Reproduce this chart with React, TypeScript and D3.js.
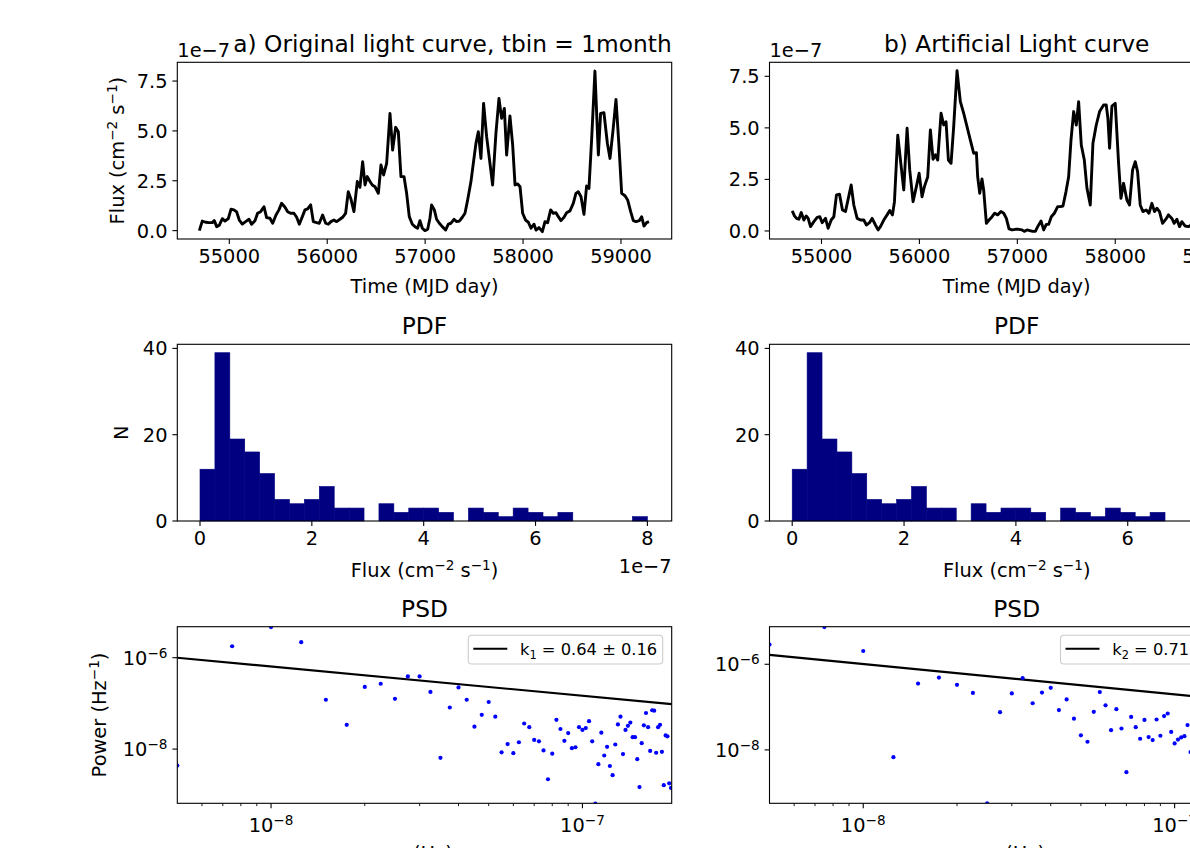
import React, { useEffect } from 'react';
import * as d3 from 'd3';

const FONT = "'DejaVu Sans', sans-serif";
const TICK_FS = 19.4;
const TITLE_FS = 23.3;
const SUP_FS = 13.6;
const LEG_FS = 16.3;

// a) original light curve: MJD and flux (1e-7 cm^-2 s^-1)
const timeA = [54694, 54724, 54758, 54792, 54826, 54847, 54871, 54898, 54929, 54956, 54990, 55017, 55048, 55075, 55102, 55133, 55167, 55201, 55228, 55262, 55289, 55320, 55354, 55381, 55415, 55443, 55477, 55507, 55534, 55569, 55596, 55626, 55660, 55688, 55715, 55746, 55773, 55800, 55831, 55858, 55892, 55919, 55953, 55984, 56011, 56038, 56069, 56096, 56130, 56157, 56188, 56215, 56243, 56273, 56307, 56334, 56362, 56386, 56409, 56437, 56460, 56488, 56522, 56549, 56576, 56607, 56641, 56668, 56699, 56726, 56753, 56784, 56811, 56838, 56869, 56896, 56923, 56947, 56971, 56998, 57026, 57049, 57066, 57094, 57117, 57145, 57175, 57209, 57237, 57264, 57295, 57322, 57349, 57380, 57407, 57434, 57468, 57492, 57519, 57543, 57570, 57597, 57628, 57662, 57689, 57723, 57754, 57781, 57809, 57832, 57866, 57894, 57918, 57945, 57969, 57996, 58026, 58054, 58081, 58112, 58132, 58163, 58197, 58224, 58251, 58282, 58309, 58336, 58360, 58387, 58418, 58445, 58479, 58513, 58540, 58564, 58592, 58622, 58649, 58673, 58700, 58734, 58769, 58792, 58826, 58861, 58888, 58919, 58949, 58980, 59007, 59041, 59068, 59099, 59126, 59153, 59187, 59211, 59235, 59262, 59286];
const fluxA = [0.0, 0.48, 0.42, 0.40, 0.40, 0.50, 0.20, 0.27, 0.60, 0.48, 0.60, 1.07, 1.04, 0.94, 0.53, 0.33, 0.45, 0.57, 0.32, 0.50, 0.87, 0.95, 1.20, 0.65, 0.62, 0.37, 0.78, 1.04, 1.37, 1.17, 0.95, 0.87, 0.87, 0.67, 0.32, 0.70, 1.04, 1.09, 1.29, 0.45, 0.40, 0.37, 0.78, 0.37, 0.32, 0.45, 0.53, 0.45, 0.57, 0.67, 0.87, 1.95, 1.57, 0.95, 2.46, 2.17, 3.46, 2.29, 2.71, 2.46, 2.29, 2.20, 1.87, 3.29, 2.79, 3.37, 5.88, 4.04, 5.18, 4.96, 2.71, 2.71, 1.87, 0.70, 0.32, 0.20, 0.12, 0.50, 0.12, 0.00, 0.07, 0.62, 1.29, 1.04, 0.57, 0.37, 0.20, 0.03, 0.33, 0.37, 0.57, 0.45, 0.48, 0.67, 0.87, 1.54, 2.46, 3.37, 4.38, 4.96, 3.62, 6.38, 4.71, 3.37, 2.29, 4.88, 6.63, 5.63, 6.13, 3.79, 5.75, 4.29, 2.29, 2.34, 2.20, 0.87, 0.53, 0.42, 0.12, 0.32, 0.03, 0.15, -0.05, 0.45, 0.40, 1.04, 0.87, 0.90, 0.70, 0.50, 0.67, 0.90, 0.99, 1.37, 1.87, 1.95, 1.70, 0.82, 2.24, 2.12, 4.54, 8.0, 3.79, 5.88, 5.91, 4.38, 3.62, 5.04, 6.58, 4.21, 1.87, 1.75, 1.54, 0.95, 0.50, 0.45, 0.50, 0.70, 0.23, 0.40, 0.45];

// b) artificial light curve
const timeB = [54701, 54724, 54745, 54769, 54793, 54820, 54844, 54864, 54888, 54922, 54956, 54983, 55007, 55041, 55068, 55099, 55126, 55153, 55184, 55214, 55245, 55303, 55330, 55364, 55398, 55432, 55459, 55490, 55517, 55551, 55578, 55602, 55636, 55670, 55697, 55725, 55745, 55779, 55810, 55840, 55874, 55901, 55935, 55969, 55997, 56027, 56051, 56085, 56112, 56139, 56163, 56187, 56221, 56248, 56272, 56296, 56323, 56350, 56384, 56418, 56452, 56486, 56520, 56554, 56582, 56595, 56616, 56639, 56656, 56684, 56711, 56742, 56769, 56799, 56833, 56861, 56888, 56915, 56946, 56980, 57014, 57048, 57071, 57099, 57126, 57157, 57184, 57208, 57242, 57269, 57296, 57320, 57347, 57378, 57412, 57439, 57466, 57497, 57524, 57548, 57575, 57602, 57626, 57653, 57684, 57711, 57745, 57772, 57806, 57840, 57881, 57908, 57925, 57942, 57966, 58000, 58034, 58058, 58085, 58119, 58146, 58177, 58204, 58228, 58255, 58282, 58316, 58344, 58374, 58401, 58425, 58452, 58483, 58517, 58544, 58578, 58602, 58629, 58657, 58680, 58714, 58748, 58780];
const fluxB = [0.97, 0.73, 0.61, 0.57, 0.89, 0.53, 0.73, 0.61, 0.21, 0.45, 0.66, 0.69, 0.40, 0.61, 0.13, 0.53, 0.69, 1.75, 1.78, 1.02, 0.94, 2.23, 1.26, 0.61, 0.53, 0.53, 0.29, 0.40, 0.61, 0.29, 0.05, 0.21, 0.53, 0.78, 0.99, 0.78, 1.42, 4.65, 3.28, 1.99, 4.98, 2.96, 1.42, 2.15, 2.80, 1.66, 2.15, 2.63, 4.90, 3.48, 3.69, 3.44, 5.71, 5.14, 5.30, 3.44, 3.28, 5.06, 7.77, 6.27, 5.71, 5.06, 4.41, 3.77, 3.80, 2.63, 1.83, 2.52, 1.99, 0.37, 0.53, 0.69, 0.86, 0.78, 0.94, 0.86, 0.61, 0.10, 0.05, 0.08, 0.08, 0.05, -0.02, 0.05, 0.02, -0.02, -0.02, 0.21, 0.48, 0.05, 0.32, 0.32, 0.69, 0.86, 1.18, 1.18, 1.21, 1.91, 2.63, 4.41, 5.79, 5.14, 6.27, 4.17, 3.44, 2.07, 1.26, 4.25, 5.14, 5.79, 6.11, 6.11, 5.46, 4.01, 6.06, 6.19, 3.28, 1.58, 2.31, 1.50, 1.26, 2.96, 3.36, 2.88, 1.26, 0.94, 1.02, 0.86, 1.34, 0.94, 1.10, 0.94, 0.37, 0.57, 0.78, 0.61, 0.37, 0.57, 0.21, 0.45, 0.24, 0.21, 0.30];

// PDF histogram (same for both light curves)
const pdfCounts = [12, 39, 19, 16, 11, 5, 4, 5, 8, 3, 3, 0, 4, 2, 3, 3, 2, 0, 3, 2, 1, 3, 2, 1, 2, 0, 0, 0, 0, 1];
const pdfRange = [0, 8.0];

// PSD: frequencies (1e-9 Hz) and log10 power
const psdFreq = [5, 7.5, 10, 12.5, 15, 17.5, 20, 22.5, 25, 27.5, 30, 32.5, 35, 37.5, 40, 42.5, 45, 47.5, 50, 52.5, 55, 57.5, 60, 62.5, 65, 67.5, 70, 72.5, 75, 77.5, 80, 82.5, 85, 87.5, 90, 92.5, 95, 97.5, 100, 102.5, 105, 107.5, 110, 112.5, 115, 117.5, 120, 122.5, 125, 127.5, 130, 132.5, 135, 137.5, 140, 142.5, 145, 147.5, 150, 152.5, 155, 157.5, 160, 162.5, 165, 167.5, 170, 172.5, 175, 177.5, 180, 182.5, 185, 187.5, 190, 192.5];
const psdLogA = [-8.36, -5.75, -5.33, -5.66, -6.92, -7.47, -6.64, -6.57, -6.90, -6.41, -6.41, -6.75, -8.19, -7.09, -6.65, -6.92, -7.51, -7.25, -6.97, -7.29, -8.07, -7.89, -8.09, -7.85, -7.44, -7.52, -7.80, -7.83, -8.03, -8.66, -8.10, -7.36, -7.56, -7.82, -7.65, -7.98, -7.96, -7.52, -7.58, -7.54, -7.39, -7.83, -9.19, -8.33, -7.64, -8.14, -7.95, -8.37, -8.57, -7.90, -7.46, -7.29, -8.11, -7.58, -7.49, -7.42, -7.74, -7.74, -8.22, -8.83, -7.87, -7.48, -7.21, -7.52, -8.04, -7.15, -7.16, -8.08, -7.52, -7.47, -8.06, -8.79, -7.70, -7.72, -8.75, -8.85];
const psdLogB = [-5.54, -5.13, -5.69, -8.17, -6.45, -6.31, -6.48, -6.67, -9.25, -7.12, -6.68, -6.32, -6.91, -6.66, -6.55, -7.07, -6.82, -7.27, -7.66, -7.81, -7.11, -6.65, -6.96, -7.54, -7.05, -7.50, -8.52, -7.23, -7.47, -7.74, -7.30, -7.70, -7.77, -7.29, -7.67, -7.21, -7.15, -7.58, -7.85, -7.76, -7.71, -7.68, -7.42, -8.05];
// power-law fits: slope k, log10 power at 5e-9 Hz
const fitA = { name: '1', k: 0.64, err: '0.16', logP0: -6.0 };
const fitB = { name: '2', k: 0.71, err: '0.16', logP0: -5.78 };

const lcTicks = [55000, 56000, 57000, 58000, 59000];
const lcYTicks = [0, 2.5, 5, 7.5];
const pdfXTicks = [0, 2, 4, 6, 8];
const pdfYTicks = [0, 20, 40];
const psdMajorX = [{ v: 1e-8, e: '−8' }, { v: 1e-7, e: '−7' }];
const psdMinorX = [6e-9, 7e-9, 8e-9, 9e-9, 2e-8, 3e-8, 4e-8, 5e-8, 6e-8, 7e-8, 8e-8, 9e-8];
const psdMajorY = [{ v: 1e-6, e: '−6' }, { v: 1e-8, e: '−8' }];

const COLS = [{ left: 177.3, right: 671.7 }, { left: 769.5, right: 1263.9 }];
const ROWS = [{ top: 62.3, bottom: 239 }, { top: 344.3, bottom: 521 }, { top: 626.7, bottom: 803.3 }];

function Frame({ c, r }) {
  return <rect x={c.left} y={r.top} width={c.right - c.left} height={r.bottom - r.top} fill="none" stroke="#000" strokeWidth={1.1} />;
}

// "Flux (cm^-2 s^-1)" with raised exponents
function FluxLabel() {
  return <>Flux (cm<tspan dy={-7} fontSize={SUP_FS}>−2</tspan><tspan dy={7}> s</tspan><tspan dy={-7} fontSize={SUP_FS}>−1</tspan><tspan dy={7}>)</tspan></>;
}

function LightCurve({ id, c, times, fluxes, yDom, title, titleEnd, yLabel }) {
  const r = ROWS[0];
  const x = d3.scaleLinear().domain([54469, 59518]).range([c.left, c.right]);
  const y = d3.scaleLinear().domain(yDom).range([r.bottom, r.top]);
  const line = d3.line<number>().x(i => x(times[i])).y(i => y(fluxes[i]));
  const cx = (c.left + c.right) / 2;
  return (
    <g>
      <clipPath id={id}><rect x={c.left} y={r.top} width={c.right - c.left} height={r.bottom - r.top} /></clipPath>
      <path d={line(d3.range(times.length)) || ''} fill="none" stroke="#000" strokeWidth={2.9} strokeLinejoin="round" clipPath={`url(#${id})`} />
      <Frame c={c} r={r} />
      {lcTicks.map(t => (
        <g key={t}>
          <line x1={x(t)} x2={x(t)} y1={r.bottom} y2={r.bottom + 4.9} stroke="#000" strokeWidth={1.1} />
          <text x={x(t)} y={r.bottom + 23.7} textAnchor="middle" fontSize={TICK_FS}>{t}</text>
        </g>
      ))}
      {lcYTicks.map(t => (
        <g key={t}>
          <line x1={c.left - 4.9} x2={c.left} y1={y(t)} y2={y(t)} stroke="#000" strokeWidth={1.1} />
          <text x={c.left - 9.8} y={y(t) + 7} textAnchor="end" fontSize={TICK_FS}>{d3.format('.1f')(t)}</text>
        </g>
      ))}
      <text x={c.left} y={r.top - 5.5} fontSize={TICK_FS}>1e−7</text>
      <text x={titleEnd ? c.right : cx} y={r.top - 10} textAnchor={titleEnd ? 'end' : 'middle'} fontSize={TITLE_FS}>{title}</text>
      <text x={cx} y={293} textAnchor="middle" fontSize={TICK_FS}>Time (MJD day)</text>
      {yLabel && <text transform={`translate(124,${(r.top + r.bottom) / 2}) rotate(-90)`} textAnchor="middle" fontSize={TICK_FS}><FluxLabel /></text>}
    </g>
  );
}

function Pdf({ c, yLabel, offset }) {
  const r = ROWS[1];
  const x = d3.scaleLinear().domain([-0.406, 8.435]).range([c.left, c.right]);
  const y = d3.scaleLinear().domain([0, 40.95]).range([r.bottom, r.top]);
  const w = (pdfRange[1] - pdfRange[0]) / pdfCounts.length;
  const cx = (c.left + c.right) / 2;
  return (
    <g>
      {pdfCounts.map((n, i) => n > 0 && (
        <rect key={i} x={x(pdfRange[0] + i * w)} width={x(pdfRange[0] + (i + 1) * w) - x(pdfRange[0] + i * w)} y={y(n)} height={y(0) - y(n)} fill="#000080" stroke="#000080" strokeWidth={0.6} />
      ))}
      <Frame c={c} r={r} />
      {pdfXTicks.map(t => (
        <g key={t}>
          <line x1={x(t)} x2={x(t)} y1={r.bottom} y2={r.bottom + 4.9} stroke="#000" strokeWidth={1.1} />
          <text x={x(t)} y={r.bottom + 23.7} textAnchor="middle" fontSize={TICK_FS}>{t}</text>
        </g>
      ))}
      {pdfYTicks.map(t => (
        <g key={t}>
          <line x1={c.left - 4.9} x2={c.left} y1={y(t)} y2={y(t)} stroke="#000" strokeWidth={1.1} />
          <text x={c.left - 9.8} y={y(t) + 7} textAnchor="end" fontSize={TICK_FS}>{t}</text>
        </g>
      ))}
      <text x={cx} y={r.top - 10} textAnchor="middle" fontSize={TITLE_FS}>PDF</text>
      <text x={cx} y={577} textAnchor="middle" fontSize={TICK_FS}><FluxLabel /></text>
      {offset && <text x={c.right} y={573} textAnchor="end" fontSize={TICK_FS}>1e−7</text>}
      {yLabel && <text transform={`translate(128,${(r.top + r.bottom) / 2}) rotate(-90)`} textAnchor="middle" fontSize={TICK_FS}>N</text>}
    </g>
  );
}

function Psd({ id, c, logs, yDom, fit, yLabel }) {
  const r = ROWS[2];
  const x = d3.scaleLog().domain([5.0e-9, 1.935e-7]).range([c.left, c.right]);
  const y = d3.scaleLog().domain(yDom.map(v => Math.pow(10, v))).range([r.bottom, r.top]);
  const fitLine = d3.line<number>().x(f => x(f)).y(f => y(Math.pow(10, fit.logP0 - fit.k * (Math.log10(f) - Math.log10(5e-9)))));
  const cx = (c.left + c.right) / 2;
  const lx = c.left + 291;
  return (
    <g>
      <clipPath id={id}><rect x={c.left} y={r.top} width={c.right - c.left} height={r.bottom - r.top} /></clipPath>
      <g clipPath={`url(#${id})`}>
        <path d={fitLine(x.domain()) || ''} fill="none" stroke="#000" strokeWidth={2.1} />
        {logs.map((p, i) => (
          <circle key={i} cx={x(psdFreq[i] * 1e-9)} cy={y(Math.pow(10, p))} r={2.1} fill="#0000ff" />
        ))}
      </g>
      <Frame c={c} r={r} />
      {psdMinorX.map(t => (
        <line key={t} x1={x(t)} x2={x(t)} y1={r.bottom} y2={r.bottom + 2.8} stroke="#000" strokeWidth={0.9} />
      ))}
      {psdMajorX.map(t => (
        <g key={t.v}>
          <line x1={x(t.v)} x2={x(t.v)} y1={r.bottom} y2={r.bottom + 4.9} stroke="#000" strokeWidth={1.1} />
          <text x={x(t.v)} y={832} textAnchor="middle" fontSize={TICK_FS}>10<tspan dy={-7} fontSize={SUP_FS}>{t.e}</tspan></text>
        </g>
      ))}
      {psdMajorY.map(t => (
        <g key={t.v}>
          <line x1={c.left - 4.9} x2={c.left} y1={y(t.v)} y2={y(t.v)} stroke="#000" strokeWidth={1.1} />
          <text x={c.left - 9.8} y={y(t.v) + 7} textAnchor="end" fontSize={TICK_FS}>10<tspan dy={-7} fontSize={SUP_FS}>{t.e}</tspan></text>
        </g>
      ))}
      <rect x={lx} y={r.top + 8.6} width={194.4} height={28.7} rx={3.5} fill="#fff" fillOpacity={0.8} stroke="#cccccc" strokeWidth={1.1} />
      <line x1={lx + 5} x2={lx + 39} y1={r.top + 22} y2={r.top + 22} stroke="#000" strokeWidth={2.1} />
      <text x={lx + 51.7} y={r.top + 28} fontSize={LEG_FS}>k<tspan dy={4} fontSize={11.4}>{fit.name}</tspan><tspan dy={-4}> = {fit.k.toFixed(2)} ± {fit.err}</tspan></text>
      <text x={cx} y={r.top - 10} textAnchor="middle" fontSize={TITLE_FS}>PSD</text>
      <text x={cx} y={860} textAnchor="middle" fontSize={TICK_FS}>ν (Hz)</text>
      {yLabel && <text transform={`translate(106,${(r.top + r.bottom) / 2}) rotate(-90)`} textAnchor="middle" fontSize={TICK_FS}>Power (Hz<tspan dy={-7} fontSize={SUP_FS}>−1</tspan><tspan dy={7}>)</tspan></text>}
    </g>
  );
}

export default function App() {
  useEffect(() => { document.body.style.margin = '0'; }, []);
  return (
    <svg width={1190} height={848} style={{ position: 'absolute', left: 0, top: 0, background: '#fff' }} fontFamily={FONT} fill="#000">
      <rect width={1190} height={848} fill="#fff" />
      <LightCurve id="lcA" c={COLS[0]} times={timeA} fluxes={fluxA} yDom={[-0.42, 8.44]} title="a) Original light curve, tbin = 1month" titleEnd yLabel />
      <LightCurve id="lcB" c={COLS[1]} times={timeB} fluxes={fluxB} yDom={[-0.39, 8.18]} title="b) Artificial Light curve" titleEnd={false} yLabel={false} />
      <Pdf c={COLS[0]} yLabel offset />
      <Pdf c={COLS[1]} yLabel={false} offset={false} />
      <Psd id="psdA" c={COLS[0]} logs={psdLogA} yDom={[-9.186, -5.322]} fit={fitA} yLabel />
      <Psd id="psdB" c={COLS[1]} logs={psdLogB} yDom={[-9.248, -5.122]} fit={fitB} yLabel={false} />
    </svg>
  );
}
